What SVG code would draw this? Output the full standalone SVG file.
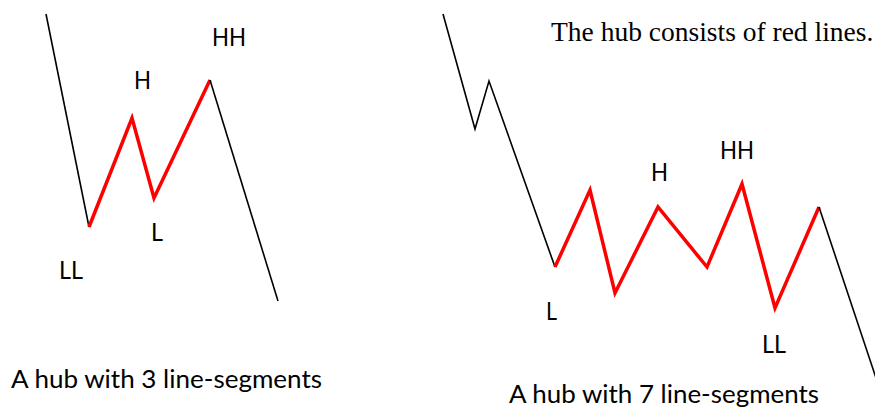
<svg xmlns="http://www.w3.org/2000/svg" width="875" height="412" viewBox="0 0 875 412">
<style>
.blk{fill:none;stroke:#000;stroke-width:1.6;stroke-linejoin:miter}
.red{fill:none;stroke:#f00;stroke-width:3.5;stroke-linejoin:miter}
.lbl{font-family:Lato,"Open Sans","Liberation Sans",sans-serif;font-size:25px;fill:#000}
.ser{font-family:"Liberation Serif",serif;font-size:27.5px;fill:#000}
</style>
<rect width="875" height="412" fill="#fff"/>
<g id="connectors">
<polyline class="blk" points="46,14 89,227"/>
<polyline class="red" points="89,227 132,118 154,198 210,80"/>
<polyline class="blk" points="210,80 278,301"/>
<polyline class="blk" points="443,14 475,129 489,81 555,267"/>
<polyline class="red" points="555,267 590,190 615,293 658,207 707,267 742,184 775,308 819,207"/>
<polyline class="blk" points="819,207 876,378"/>
</g>
<g id="left-labels">
<text class="lbl" x="212" y="46" textLength="34" lengthAdjust="spacingAndGlyphs">HH</text>
<text class="lbl" x="134" y="89" textLength="17" lengthAdjust="spacingAndGlyphs">H</text>
<text class="lbl" x="151" y="241" textLength="12" lengthAdjust="spacingAndGlyphs">L</text>
<text class="lbl" x="59" y="279" textLength="24" lengthAdjust="spacingAndGlyphs">LL</text>
<text class="lbl" x="11" y="388" textLength="311" lengthAdjust="spacingAndGlyphs">A hub with 3 line-segments</text>
</g>
<g id="right-labels">
<text class="ser" x="551" y="41">The hub consists of red lines.</text>
<text class="lbl" x="720" y="159" textLength="34" lengthAdjust="spacingAndGlyphs">HH</text>
<text class="lbl" x="651" y="181" textLength="17" lengthAdjust="spacingAndGlyphs">H</text>
<text class="lbl" x="546" y="320" textLength="11" lengthAdjust="spacingAndGlyphs">L</text>
<text class="lbl" x="762" y="353" textLength="24" lengthAdjust="spacingAndGlyphs">LL</text>
<text class="lbl" x="509" y="403" textLength="310" lengthAdjust="spacingAndGlyphs">A hub with 7 line-segments</text>
</g>
</svg>
